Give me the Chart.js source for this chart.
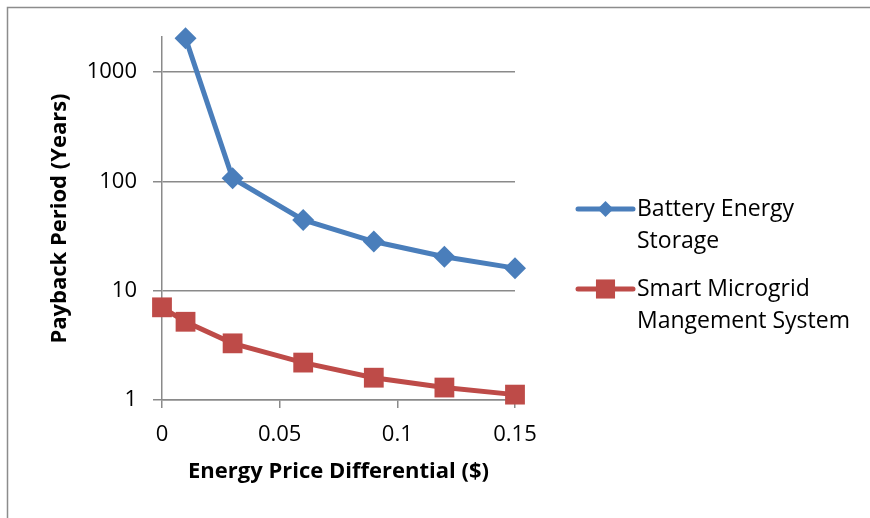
<!DOCTYPE html>
<html>
<head>
<meta charset="utf-8">
<script src="https://cdn.jsdelivr.net/npm/chart.js@4/dist/chart.umd.min.js"></script>
<style>
  html, body { margin: 0; padding: 0; background: #fff; }
  #wrap { width: 870px; height: 518px; }
</style>
</head>
<body>
<div id="wrap"><canvas id="payback" width="870" height="518"></canvas></div>
<script>
// price differential ($)
const batteryX = [0.01, 0.03, 0.06, 0.09, 0.12, 0.15];
const batteryYears = [2050, 107, 44.5, 28.2, 20.5, 16.1];
const microgridX = [0, 0.01, 0.03, 0.06, 0.09, 0.12, 0.15];
const microgridYears = [7.05, 5.2, 3.3, 2.2, 1.6, 1.3, 1.12];

const seriesNames = [["Battery Energy", "Storage"], ["Smart Microgrid", "Mangement System"]];
const seriesColors = ["#4A7EBB", "#BE4B48"];

const xTicks = [0, 0.05, 0.1, 0.15];
const xTickLabels = ["0", "0.05", "0.1", "0.15"];
const yTicks = [1, 10, 100, 1000];

const FONT = "'Open Sans', 'Liberation Sans', sans-serif";
const gridGray = "#8a8a8a";

function pts(xs, ys) {
  return xs.map((x, i) => ({ x: x, y: ys[i] }));
}

// frame around the chart (only top and left edges are visible)
const framePlugin = {
  id: "frame",
  beforeDraw(chart) {
    const ctx = chart.ctx;
    ctx.save();
    ctx.fillStyle = "#fff";
    ctx.fillRect(0, 0, chart.width, chart.height);
    ctx.strokeStyle = "#8c8c8c";
    ctx.lineWidth = 1.5;
    ctx.beginPath();
    ctx.moveTo(7.5, chart.height);
    ctx.lineTo(7.5, 7.5);
    ctx.lineTo(chart.width, 7.5);
    ctx.stroke();
    ctx.restore();
  },
};

// legend with wrapped labels, on the right like Excel
const sideLegend = {
  id: "sideLegend",
  afterDraw(chart) {
    const ctx = chart.ctx;
    const x0 = 578, x1 = 633, tx = 637;
    const rows = [209, 289];
    ctx.save();
    chart.data.datasets.forEach((ds, i) => {
      const y = rows[i];
      ctx.strokeStyle = ds.borderColor;
      ctx.lineWidth = 5;
      ctx.lineCap = "round";
      ctx.beginPath();
      ctx.moveTo(x0, y);
      ctx.lineTo(x1, y);
      ctx.stroke();
      ctx.fillStyle = ds.borderColor;
      Chart.helpers.drawPoint(ctx, {
        pointStyle: ds.pointStyle,
        radius: i === 0 ? 8 : 13.5,
        borderWidth: 0,
        rotation: 0,
      }, (x0 + x1) / 2, y);
      ctx.fillStyle = "#000";
      ctx.font = "23px " + FONT;
      ctx.textBaseline = "middle";
      ctx.textAlign = "left";
      seriesNames[i].forEach((line, k) => {
        ctx.fillText(line, tx, y + k * 32.5);
      });
    });
    ctx.restore();
  },
};

new Chart(document.getElementById("payback"), {
  type: "line",
  data: {
    datasets: [
      {
        label: seriesNames[0].join(" "),
        data: pts(batteryX, batteryYears),
        borderColor: seriesColors[0],
        backgroundColor: seriesColors[0],
        borderWidth: 5,
        pointStyle: "rectRot",
        pointRadius: 11,
        pointBorderWidth: 0,
        clip: false,
      },
      {
        label: seriesNames[1].join(" "),
        data: pts(microgridX, microgridYears),
        borderColor: seriesColors[1],
        backgroundColor: seriesColors[1],
        borderWidth: 5,
        pointStyle: "rect",
        pointRadius: 14,
        pointBorderWidth: 0,
        clip: false,
      },
    ],
  },
  options: {
    responsive: false,
    animation: false,
    layout: { padding: { top: 37, right: 355, left: 0, bottom: 0 } },
    plugins: {
      legend: { display: false },
      tooltip: { enabled: false },
    },
    scales: {
      x: {
        type: "linear",
        min: 0,
        max: 0.15,
        afterBuildTicks: (scale) => {
          scale.ticks = xTicks.map((v) => ({ value: v }));
        },
        afterFit: (scale) => {
          scale.height = 118;
        },
        ticks: {
          color: "#000",
          padding: 14,
          maxRotation: 0,
          font: { family: FONT, size: 22 },
          callback: (v) => xTickLabels[xTicks.indexOf(v)],
        },
        grid: {
          drawOnChartArea: false,
          drawTicks: true,
          tickLength: 8,
          color: gridGray,
          lineWidth: 1.5,
        },
        border: { color: gridGray, width: 1.5 },
        title: {
          display: true,
          text: "Energy Price Differential ($)",
          color: "#000",
          font: { family: FONT, size: 22, weight: "bold" },
          padding: { top: 0, bottom: 33 },
        },
      },
      y: {
        type: "logarithmic",
        min: 1,
        max: 2100,
        afterBuildTicks: (scale) => {
          scale.ticks = yTicks.map((v) => ({ value: v }));
        },
        afterFit: (scale) => {
          scale.width = 162;
        },
        ticks: {
          color: "#000",
          padding: 16,
          font: { family: FONT, size: 22 },
          callback: (v) => String(v),
        },
        grid: {
          color: gridGray,
          lineWidth: 1.5,
          tickLength: 9,
        },
        border: { color: gridGray, width: 1.5 },
        title: {
          display: true,
          text: "Payback Period (Years)",
          color: "#000",
          font: { family: FONT, size: 22, weight: "bold" },
          padding: { top: 47, bottom: 0 },
        },
      },
    },
  },
  plugins: [framePlugin, sideLegend],
});
</script>
</body>
</html>
